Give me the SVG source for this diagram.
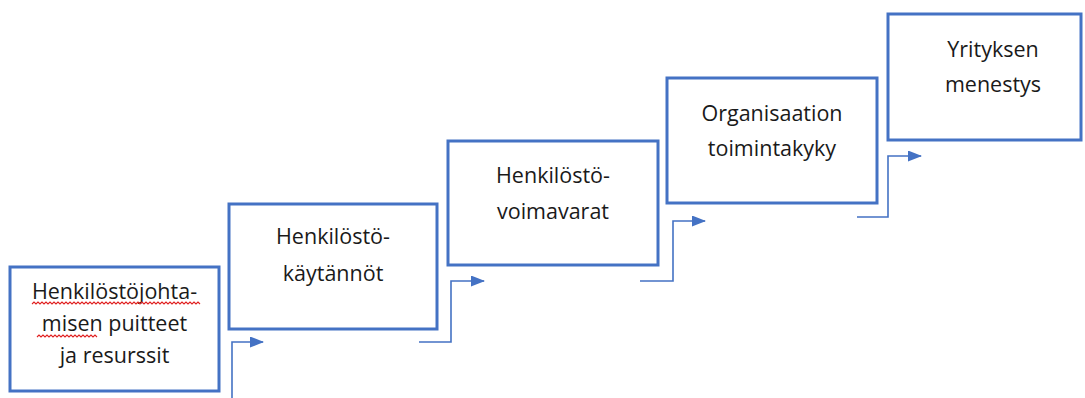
<svg xmlns="http://www.w3.org/2000/svg" width="1085" height="398" viewBox="0 0 1085 398">
<defs>
<style>
.box{fill:#fff;stroke:#4472C4;stroke-width:3}
.lbl{font-family:"Open Sans","Liberation Sans",sans-serif;font-size:21.5px;fill:#1a1a1a;text-anchor:middle}
.con{fill:none;stroke:#4472C4;stroke-width:1.6}
.sq{fill:none;stroke:#e02020;stroke-width:1.1}
</style>
<marker id="arr" markerWidth="14" markerHeight="11" refX="13" refY="5.5" orient="auto" markerUnits="userSpaceOnUse">
<path d="M0,0 L14,5.5 L0,11 Z" fill="#4472C4"/>
</marker>
</defs>
<rect width="1085" height="398" fill="#fff"/>
<g id="connectors">
<path class="con" d="M232,398 V342 H263" marker-end="url(#arr)"/>
<path class="con" d="M419,342 H451 V281 H484" marker-end="url(#arr)"/>
<path class="con" d="M640,281 H673 V221 H705" marker-end="url(#arr)"/>
<path class="con" d="M857,217 H888 V156 H921" marker-end="url(#arr)"/>
</g>
<g id="node1">
<rect class="box" x="10" y="267" width="209" height="124"/>
<text class="lbl" x="114.5" y="299">Henkilöstöjohta-</text>
<text class="lbl" x="114.5" y="331">misen puitteet</text>
<text class="lbl" x="114.5" y="363">ja resurssit</text>
<path class="sq" d="M32,304 l2,-2 l2,2 l2,-2 l2,2 l2,-2 l2,2 l2,-2 l2,2 l2,-2 l2,2 l2,-2 l2,2 l2,-2 l2,2 l2,-2 l2,2 l2,-2 l2,2 l2,-2 l2,2 l2,-2 l2,2 l2,-2 l2,2 l2,-2 l2,2 l2,-2 l2,2 l2,-2 l2,2 l2,-2 l2,2 l2,-2 l2,2 l2,-2 l2,2 l2,-2 l2,2 l2,-2 l2,2 l2,-2 l2,2 l2,-2 l2,2 l2,-2 l2,2 l2,-2 l2,2 l2,-2 l2,2 l2,-2 l2,2 l2,-2 l2,2 l2,-2 l2,2 l2,-2 l2,2 l2,-2 l2,2 l2,-2 l2,2 l2,-2 l2,2 l2,-2 l2,2 l2,-2 l2,2 l2,-2 l2,2 l2,-2 l2,2 l2,-2 l2,2 l2,-2 l2,2 l2,-2 l2,2 l2,-2 l2,2 l2,-2 l2,2 l2,-2 l2,2"/>
<path class="sq" d="M37,337 l2,-2 l2,2 l2,-2 l2,2 l2,-2 l2,2 l2,-2 l2,2 l2,-2 l2,2 l2,-2 l2,2 l2,-2 l2,2 l2,-2 l2,2 l2,-2 l2,2 l2,-2 l2,2 l2,-2 l2,2 l2,-2 l2,2 l2,-2 l2,2 l2,-2 l2,2 l2,-2 l2,2"/>
</g>
<g id="node2">
<rect class="box" x="229" y="204" width="208" height="125"/>
<text class="lbl" x="333" y="244">Henkilöstö-</text>
<text class="lbl" x="333" y="281">käytännöt</text>
</g>
<g id="node3">
<rect class="box" x="448" y="141" width="210" height="124"/>
<text class="lbl" x="553" y="183">Henkilöstö-</text>
<text class="lbl" x="553" y="219">voimavarat</text>
</g>
<g id="node4">
<rect class="box" x="667" y="78" width="210" height="125"/>
<text class="lbl" x="772" y="121">Organisaation</text>
<text class="lbl" x="772" y="156">toimintakyky</text>
</g>
<g id="node5">
<rect class="box" x="888" y="14" width="193" height="126"/>
<text class="lbl" x="993" y="57">Yrityksen</text>
<text class="lbl" x="993" y="92">menestys</text>
</g>
</svg>
